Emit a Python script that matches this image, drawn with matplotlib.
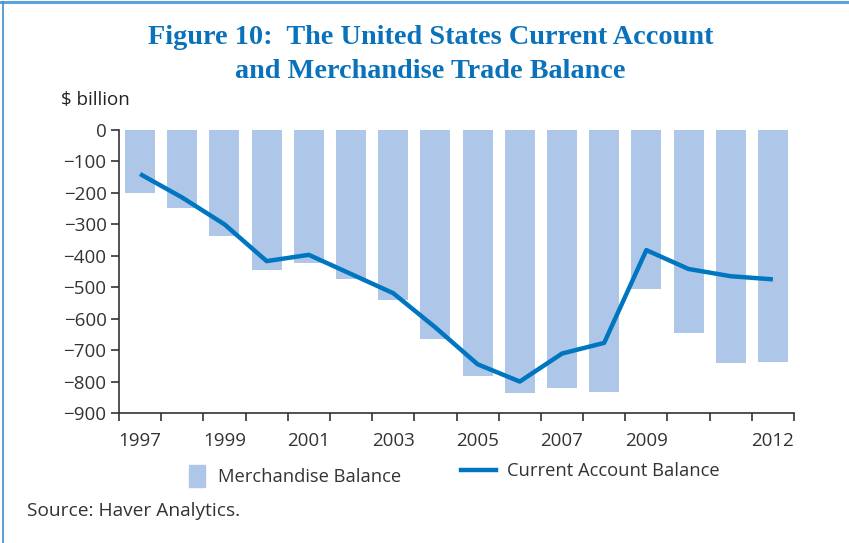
import matplotlib
matplotlib.use("Agg")
import matplotlib.pyplot as plt
from matplotlib.lines import Line2D
import numpy as np

years = list(range(1997, 2013))
merchandise = [-199, -248, -337, -446, -422, -475, -541, -665, -783, -836, -819, -832, -506, -645, -740, -737]
current_account = [-140, -215, -300, -417, -397, -458, -519, -628, -745, -800, -711, -677, -382, -442, -465, -475]
xtick_labels = ["1997", "", "1999", "", "2001", "", "2003", "", "2005", "", "2007", "", "2009", "", "", "2012"]
yticks = [0, -100, -200, -300, -400, -500, -600, -700, -800, -900]

BAR_COLOR = "#aec6e8"
LINE_COLOR = "#0076c0"
TITLE_COLOR = "#0a72ba"
AX_COLOR = "#333333"
SANS = ["Open Sans", "DejaVu Sans"]
FS = 13.5
LFS = 13.2

fig = plt.figure(figsize=(8.49, 5.43), dpi=100)
ax = fig.add_axes([119/849, 1-413/543, (794-119)/849, 283/543])

x = np.arange(len(years))
ax.bar(x, merchandise, width=0.71, color=BAR_COLOR, zorder=1)
ax.plot(x, current_account, color=LINE_COLOR, lw=3.2, zorder=3, solid_capstyle="butt")

ax.set_xlim(-0.5, len(years) - 0.5)
ax.set_ylim(-900, 0)
ax.set_yticks(yticks)
ax.set_yticklabels([f"\u2212{abs(v)}" if v < 0 else "0" for v in yticks],
                   fontsize=FS, family=SANS, color="#333333")
ax.set_xticks(x)
ax.set_xticklabels(xtick_labels, fontsize=FS, family=SANS, color="#333333")
ax.set_xticks(np.arange(-0.5, len(years)), minor=True)
ax.tick_params(axis="x", which="major", length=0, pad=14)
ax.tick_params(axis="x", which="minor", length=6, width=1.2, color=AX_COLOR, direction="out")
ax.tick_params(axis="y", length=6, width=1.2, color=AX_COLOR, pad=3)
for s in ["top", "right"]:
    ax.spines[s].set_visible(False)
for s in ["left", "bottom"]:
    ax.spines[s].set_color(AX_COLOR)
    ax.spines[s].set_linewidth(1.2)
ax.spines["left"].set_zorder(4)
ax.spines["bottom"].set_zorder(4)

TFONT = ["Liberation Serif", "DejaVu Serif"]
fig.text(0.507, 1-38/543, "Figure 10:  The United States Current Account",
         ha="center", va="center", fontsize=20.3, fontweight="bold",
         family=TFONT, color=TITLE_COLOR)
fig.text(0.507, 1-72/543, "and Merchandise Trade Balance",
         ha="center", va="center", fontsize=20.3, fontweight="bold",
         family=TFONT, color=TITLE_COLOR)
fig.text(61/849, 1-100/543, "$ billion", ha="left", va="center",
         fontsize=FS, family=SANS, color="#222222")

leg1 = fig.legend([plt.Rectangle((0, 0), 1, 1, color=BAR_COLOR)], ["Merchandise Balance"],
                  loc="center left", bbox_to_anchor=(172/849, 1-476/543),
                  frameon=False, prop={"family": SANS, "size": LFS},
                  handlelength=0.9, handleheight=1.5, handletextpad=0.7)
leg2 = fig.legend([Line2D([0], [0], color=LINE_COLOR, lw=3.2)], ["Current Account Balance"],
                  loc="center left", bbox_to_anchor=(445/849, 1-471/543),
                  frameon=False, prop={"family": SANS, "size": LFS},
                  handlelength=1.9, handletextpad=0.6)
for leg in (leg1, leg2):
    for t in leg.get_texts():
        t.set_color("#333333")

fig.text(27/849, 1-511/543, "Source: Haver Analytics.", ha="left", va="center",
         fontsize=13.8, family=SANS, color="#333333")

fig.add_artist(Line2D([0, 1], [1-2/543, 1-2/543], transform=fig.transFigure,
                      color="#5aa4da", lw=2.2))
fig.add_artist(Line2D([3/849, 3/849], [0, 1-2/543], transform=fig.transFigure,
                      color="#3f8fcb", lw=1.2))

fig.savefig("out.png", dpi=100)
